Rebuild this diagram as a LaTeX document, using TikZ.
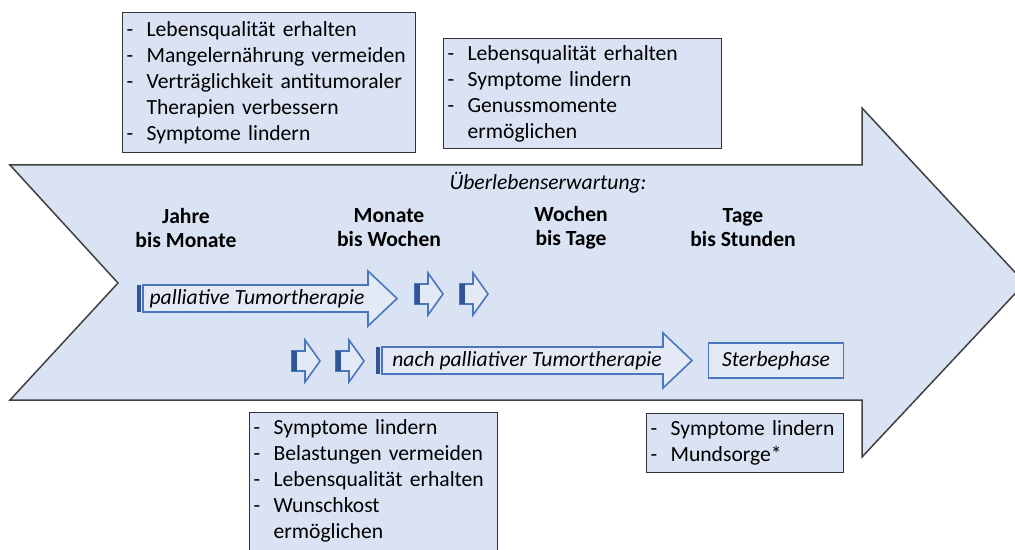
\documentclass[tikz,border=0pt]{standalone}
\usepackage{fontspec}
\setmainfont{Carlito}
\definecolor{arrowfill}{HTML}{DAE3F3}
\definecolor{boxfill}{HTML}{DAE3F3}
\definecolor{innerfill}{HTML}{E3EAF6}
\definecolor{tumblue}{HTML}{4A76BE}
\definecolor{tumdark}{HTML}{2F5597}
\newcommand{\strich}{\makebox[10pt][l]{-}}
\newcommand{\weiter}{\hspace*{10pt}}

\begin{document}
\begin{tikzpicture}[x=0.5pt,y=-0.5pt,semithick]
\tikzstyle{goal box}=[rectangle,draw=black!80,fill=boxfill,anchor=north west,inner xsep=2pt,inner ysep=2pt,align=left,font=\fontsize{10.8}{13}\selectfont]
\tikzstyle{phase node}=[align=center,font=\fontsize{10.8}{12}\selectfont\bfseries]

\tikzset{
	big arrow/.style={draw=black!75,fill=arrowfill,line width=0.75pt,line join=miter},
	inner arrow/.style={draw=tumblue,fill=innerfill,line width=0.8pt},
	therapy node/.style={font=\fontsize{10.8}{13}\selectfont\itshape},
	sterbe node/.style={rectangle,draw=tumblue,fill=innerfill,line width=0.7pt,minimum width=67.5pt,minimum height=17.5pt,font=\fontsize{10.8}{13}\selectfont\itshape}
}

      \clip (0,0) rectangle (1015,550);

      % grosser Pfeil
      \draw[big arrow] (10,165) -- (862,165) -- (862,108) -- (1025,283) -- (862,457)
            -- (862,400) -- (10,400) -- (118,283) -- cycle;

      \node[font=\fontsize{10.8}{13}\selectfont\itshape] (ueber) at (548,183) {Überlebenserwartung:};
      \node[phase node] (jahre) at (186,228) {Jahre\\bis Monate};
      \node[phase node] (monate) at (389,228) {Monate\\bis Wochen};
      \node[phase node] (wochen) at (571,228) {Wochen\\bis Tage};
      \node[phase node] (tage) at (743,228) {Tage\\bis Stunden};

      % Therapiepfeile
      \draw[inner arrow] (143,285) -- (368,285) -- (368,271) -- (397,298.5) -- (368,326)
            -- (368,312) -- (143,312) -- cycle;
      \fill[tumdark] (137,285) rectangle (141,312);
      \node[therapy node] (tumor) at (257,298.5) {palliative Tumortherapie};

      \draw[inner arrow] (382,347) -- (663,347) -- (663,333) -- (692,360.5) -- (663,388)
            -- (663,374) -- (382,374) -- cycle;
      \fill[tumdark] (376,347) rectangle (380,374);
      \node[therapy node] (nachtumor) at (527,360.5) {nach palliativer Tumortherapie};

      \foreach \x/\y in {415/294,460/294,292/361,336/361} {
        \draw[inner arrow] (\x,\y-10) -- ++(13,0) -- ++(0,-11) -- ++(15,21) -- ++(-15,21)
              -- ++(0,-11) -- ++(-13,0) -- cycle;
        \fill[tumdark] (\x,\y-10) rectangle ++(5,20);
      }

      \node[sterbe node] (sterbe) at (776,360.5) {Sterbephase};

      % Ziele
      \node[goal box,text width=142.5pt,minimum height=70pt] (ziele1) at (122,12)
            {\strich Lebensqualität erhalten\\\strich Mangelernährung vermeiden\\
             \strich Verträglichkeit antitumoraler\\\weiter Therapien verbessern\\
             \strich Symptome lindern};
      \node[goal box,text width=135pt,minimum height=55pt] (ziele2) at (443,38)
            {\strich Lebensqualität erhalten\\\strich Symptome lindern\\
             \strich Genussmomente\\\weiter ermöglichen};
      \node[goal box,text width=120pt,minimum height=79pt] (ziele3) at (249,412)
            {\strich Symptome lindern\\\strich Belastungen vermeiden\\
             \strich Lebensqualität erhalten\\\strich Wunschkost\\\weiter ermöglichen\\\mbox{}};
      \node[goal box,text width=94.5pt,minimum height=29.5pt] (ziele4) at (646,413)
            {\strich Symptome lindern\\\strich Mundsorge*};
\end{tikzpicture}
\end{document}
